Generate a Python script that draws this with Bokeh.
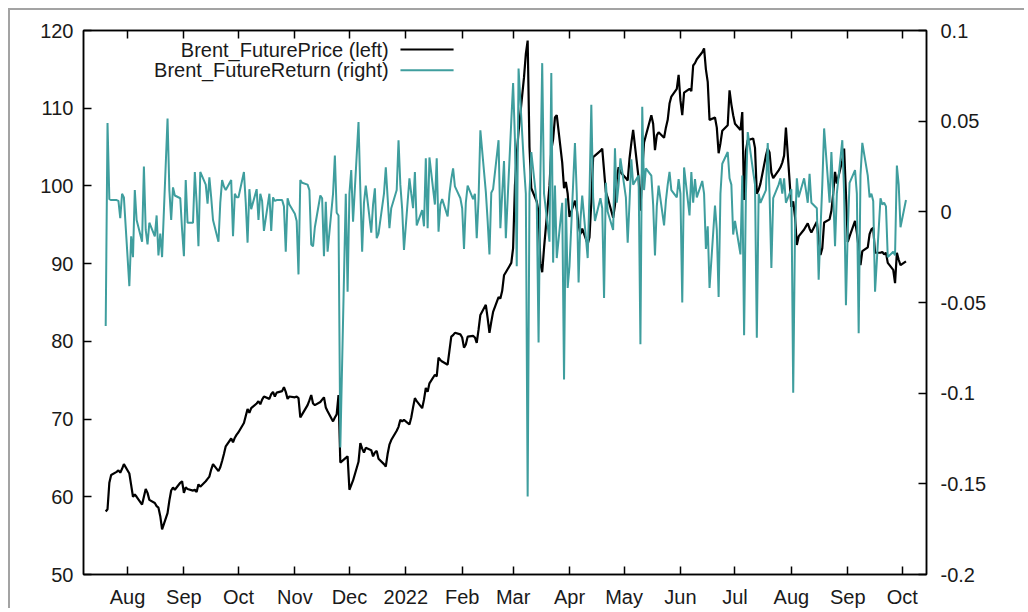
from datetime import datetime
import pandas as pd
from bokeh.plotting import figure
from bokeh.models import (Range1d, LinearAxis, DatetimeAxis, FixedTicker,
                          CustomJSTickFormatter, PrintfTickFormatter, Label)
from bokeh.embed import file_html
from bokeh.resources import INLINE

# ---------------- data ----------------
start_date = "2021-07-20"   # first business day of both series

price = [
    # Jul 2021
    58.1, 58.4, 61.8, 62.8, 63.2, 63.4, 63.1, 63.6, 64.2,
    # Aug
    63.0, 61.5, 60.0, 60.3, 60.0, 59.0, 60.0, 61.0, 60.5, 59.6, 59.2, 58.8, 58.6, 57.5, 55.8, 57.9,
    59.5, 60.8, 61.2, 60.9, 61.8, 62.0,
    # Sep
    60.5, 61.2, 61.0, 60.8, 60.9, 60.6, 61.6, 61.3, 62.0, 62.3, 62.6, 63.5, 64.2, 63.3, 63.8, 64.6,
    65.5, 66.5, 67.5, 67.0, 67.6, 68.0,
    # Oct
    68.3, 69.5, 70.4, 71.3, 70.8, 71.4, 72.0, 72.3, 71.9, 72.5, 72.9, 72.6, 73.2, 73.5, 72.9, 73.4,
    73.6, 74.1, 73.5, 72.6, 72.9,
    # Nov
    72.8, 72.9, 72.7, 70.2, 70.6, 71.8, 72.4, 73.1, 72.0, 71.8, 72.2, 72.5, 72.8, 71.5, 71.0, 69.7,
    70.2, 70.6, 73.1, 64.4, 65.0, 65.2,
    # Dec
    60.9, 61.5, 62.1, 64.5, 66.9, 66.2, 65.7, 66.3, 66.0, 65.2, 65.7, 65.9, 64.9, 64.2, 63.9, 65.5,
    66.7, 67.3, 68.5, 69.0, 69.9, 69.7, 69.9,
    # Jan 2022
    69.3, 70.2, 71.5, 72.7, 72.3, 71.4, 72.5, 74.0, 73.5, 74.6, 75.7, 75.5, 77.9, 77.6, 77.4, 77.0,
    78.8, 80.6, 80.8, 81.1, 80.9,
    # Feb
    80.5, 79.2, 79.6, 80.6, 80.7, 80.5, 79.8, 81.5, 83.4, 84.7, 83.0, 81.1, 82.5, 83.8, 85.7, 85.5,
    86.5, 88.5, 88.9, 90.1,
    # Mar
    92.0, 100.0, 104.0, 107.0, 114.0, 117.0, 118.7, 105.0, 99.7, 98.0, 96.6, 90.0, 88.9, 92.0, 100.0,
    104.6, 106.0, 108.8, 109.1, 103.0, 99.7, 100.5, 99.0,
    # Apr
    96.0, 98.1, 97.0, 95.0, 93.8, 94.5, 92.5, 93.4, 97.9, 103.7, 103.9, 104.5, 104.8, 102.0, 99.2,
    98.5, 95.9, 97.5, 100.8, 102.4, 101.8,
    # May
    101.0, 100.7, 103.5, 105.5, 107.2, 101.0, 96.8, 102.0, 105.6, 106.5, 109.1, 108.0, 104.6, 106.5,
    106.9, 106.2, 107.5, 108.5, 110.6, 111.5, 112.5, 114.3,
    # Jun
    111.0, 109.1, 112.0, 112.5, 112.2, 115.5, 115.8, 116.3, 117.2, 117.7, 115.0, 113.4, 108.5, 108.8,
    107.5, 104.2, 105.5, 107.1, 107.8, 112.3, 110.5, 109.1,
    # Jul
    108.0, 107.2, 109.5, 98.2, 104.5, 105.9, 106.1, 104.9, 99.0, 99.5, 100.3, 103.9, 104.8, 104.3,
    101.7, 101.0, 102.0, 102.4, 103.0, 103.9, 107.5,
    # Aug
    97.3, 98.0, 96.0, 92.4, 93.5, 94.4, 94.8, 95.2, 94.5, 94.0, 95.4, 93.0, 91.1, 92.0, 95.3, 95.7,
    96.8, 99.0, 101.8, 100.3, 103.3, 104.8, 99.0,
    # Sep
    92.8, 93.5, 95.5, 94.0, 92.0, 89.8, 91.6, 92.1, 93.8, 94.4, 94.6, 91.4, 91.4, 91.5, 91.2, 91.4,
    90.1, 89.2, 87.5, 91.4, 90.5, 89.8,
    # Oct
    90.3,
]

returns = [
    # Jul 2021
    -0.063, 0.049, 0.007, 0.0065, 0.0065, 0.006, -0.0035, 0.010, 0.008,
    # Aug
    -0.041, -0.0135, -0.025, 0.012, -0.0045, -0.0165, 0.025, -0.010, -0.018, -0.006, -0.0135, -0.002,
    -0.024, -0.012, -0.025, 0.0515, 0.012, -0.0045, 0.0135, 0.009, 0.0075, -0.010,
    # Sep
    -0.0245, 0.0175, -0.006, -0.006, 0.022, 0.005, -0.019, 0.022, 0.015, 0.0045, 0.019, 0.008,
    -0.0045, -0.0165, 0.005, 0.0175, 0.014, 0.012, 0.0175, -0.0135, 0.010, 0.008,
    # Oct
    0.008, 0.022, 0.005, -0.017, 0.0125, 0.0015, 0.0125, -0.0045, 0.010, 0.006, -0.0105, 0.010,
    -0.0105, 0.008, 0.006, 0.0065, 0.0065, 0.003, -0.022, 0.0075, 0.004,
    # Nov
    -0.001, -0.005, -0.0345, 0.0175, 0.016, 0.015, 0.012, -0.018, -0.019, -0.0085, 0.009, 0.0075,
    -0.0245, 0.0055, -0.022, 0.010, 0.031, -0.0005, -0.002, -0.130, 0.010, -0.044,
    # Dec
    0.010, 0.023, -0.0055, 0.0495, 0.012, -0.022, 0.005, 0.0145, -0.0115, 0.004, 0.013, -0.0145,
    -0.012, 0.010, 0.0245, 0.008, -0.009, 0.002, 0.012, 0.0395, 0.015, 0.0015, -0.021,
    # Jan 2022
    0.0185, 0.010, 0.002, 0.022, -0.0075, 0.001, -0.008, 0.0295, -0.009, 0.030, 0.004, 0.0295,
    -0.011, 0.004, 0.007, -0.0025, 0.010, 0.018, 0.024, 0.014, 0.0075,
    # Feb
    0.002, -0.0205, 0.005, 0.0145, 0.007, 0.010, -0.0145, 0.007, 0.045, 0.011, -0.005, -0.0235,
    0.0105, 0.0125, 0.0395, -0.009, 0.010, 0.028, -0.0145, 0.050,
    # Mar
    0.071, 0.040, -0.030, 0.079, 0.025, 0.010, -0.157, 0.010, 0.033, 0.005, -0.072, 0.020, 0.082,
    0.010, -0.0165, 0.0765, -0.028, 0.0145, -0.0255, 0.005, -0.0925, 0.0075, -0.042,
    # Apr
    -0.030, 0.038, 0.010, -0.039, -0.005, 0.009, -0.0255, 0.010, 0.059, 0.008, -0.005, 0.0075,
    0.002, -0.0475, 0.016, 0.000, -0.010, 0.035, 0.005, 0.015, 0.0295,
    # May
    0.008, -0.017, 0.005, 0.029, 0.015, 0.020, -0.073, 0.058, 0.012, 0.024, 0.020, 0.004, -0.024,
    0.003, 0.0145, -0.0075, 0.006, 0.015, 0.022, 0.012, 0.008, 0.018,
    # Jun
    0.010, -0.050, 0.0245, -0.002, 0.022, 0.005, 0.018, 0.008, 0.017, 0.010, -0.0205, -0.008,
    -0.042, 0.0035, -0.010, -0.047, 0.010, 0.0265, 0.033, 0.0185, 0.015, -0.0125,
    # Jul
    -0.005, -0.0235, 0.020, -0.068, 0.010, 0.044, 0.022, 0.015, -0.0695, 0.010, 0.005, 0.012,
    0.038, 0.010, -0.031, 0.0075, 0.015, 0.0185, 0.010, 0.0185, 0.005,
    # Aug
    0.0125, -0.0998, -0.010, 0.0185, 0.008, 0.0185, 0.012, 0.005, 0.021, 0.005, 0.002, -0.0375,
    -0.010, 0.015, 0.046, 0.005, 0.033, 0.010, -0.019, 0.010, 0.0395, 0.010, -0.0515,
    # Sep
    -0.010, 0.016, 0.023, 0.010, -0.067, 0.020, 0.038, 0.020, 0.008, 0.010, 0.006, -0.044, 0.0075,
    0.004, 0.005, 0.003, -0.025, -0.022, -0.024, 0.0255, 0.015, -0.0085,
    # Oct
    0.0065,
]

month_ticks = ["2021-08-01", "2021-09-01", "2021-10-01", "2021-11-01", "2021-12-01",
               "2022-01-01", "2022-02-01", "2022-03-01", "2022-04-01", "2022-05-01",
               "2022-06-01", "2022-07-01", "2022-08-01", "2022-09-01", "2022-10-01"]
left_ticks = [50, 60, 70, 80, 90, 100, 110, 120]
right_ticks = [-0.2, -0.15, -0.1, -0.05, 0, 0.05, 0.1]
series_names = ["Brent_FuturePrice (left)", "Brent_FutureReturn (right)"]

# ---------------- figure ----------------
price_dates = pd.bdate_range(start_date, periods=len(price))
ret_dates = pd.bdate_range(start_date, periods=len(returns))
tick_ms = [int(pd.Timestamp(t).value // 10**6) for t in month_ticks]

FONT = "Liberation Sans"
FS = "20px"
TEAL = "#3f9e9e"

p = figure(width=1016, height=600, x_axis_type="datetime",
           x_range=Range1d(datetime(2021, 7, 7, 19), datetime(2022, 10, 14, 7)),
           y_range=Range1d(50, 120),
           output_backend="svg", toolbar_location=None,
           min_border_left=73, min_border_right=100, min_border_top=20, min_border_bottom=35,
           background_fill_color="white", border_fill_color="white")
p.styles = {"margin-left": "8px", "margin-top": "8px",
            "border-left": "2px solid #a3a3a3", "border-top": "2px solid #a3a3a3"}

p.xgrid.visible = False
p.ygrid.visible = False
p.outline_line_color = "black"
p.outline_line_width = 1.5

p.extra_y_ranges = {"ret": Range1d(-0.2, 0.1), "leg_y": Range1d(0, 1)}
p.extra_x_ranges = {"leg_x": Range1d(0, 1)}

month_fmt = CustomJSTickFormatter(code="""
const d = new Date(tick);
const m = d.getUTCMonth();
const names = ["Jan","Feb","Mar","Apr","May","Jun","Jul","Aug","Sep","Oct","Nov","Dec"];
return m == 0 ? String(d.getUTCFullYear()) : names[m];
""")

def style_axis(ax, standoff):
    ax.major_tick_in = 8
    ax.major_tick_out = 0
    ax.minor_tick_line_color = None
    ax.major_tick_line_color = "black"
    ax.major_tick_line_width = 1.5
    ax.axis_line_color = "black"
    ax.axis_line_width = 1.5
    ax.major_label_text_font = FONT
    ax.major_label_text_font_size = FS
    ax.major_label_text_color = "#1a1a1a"
    ax.major_label_standoff = standoff

xa = p.xaxis[0]
xa.ticker = FixedTicker(ticks=tick_ms)
xa.formatter = month_fmt
style_axis(xa, 11)

ya = p.yaxis[0]
ya.ticker = FixedTicker(ticks=left_ticks)
style_axis(ya, 10)

top = DatetimeAxis(ticker=FixedTicker(ticks=tick_ms),
                   formatter=CustomJSTickFormatter(code="return '';"))
style_axis(top, 0)
top.major_label_text_font_size = "1px"
p.add_layout(top, "above")

ra = LinearAxis(y_range_name="ret", ticker=FixedTicker(ticks=right_ticks),
                formatter=PrintfTickFormatter(format="%g"))
style_axis(ra, 14)
p.add_layout(ra, "right")

# series
p.line(price_dates, price, line_color="black", line_width=2.2)
p.line(ret_dates, returns, line_color=TEAL, line_width=2, y_range_name="ret")

# gnuplot-style key: text right-aligned, sample line on the right
key_rows = [0.965, 0.927]
key_colors = ["black", TEAL]
for name, yy, col in zip(series_names, key_rows, key_colors):
    p.add_layout(Label(x=0.362, y=yy, x_range_name="leg_x", y_range_name="leg_y",
                       text=name, text_align="right", text_baseline="middle",
                       text_font=FONT, text_font_size=FS, text_color="#1a1a1a"))
    p.line([0.376, 0.439], [yy, yy], line_color=col, line_width=2,
           x_range_name="leg_x", y_range_name="leg_y")

open("out.html", "w").write(file_html(p, INLINE))
